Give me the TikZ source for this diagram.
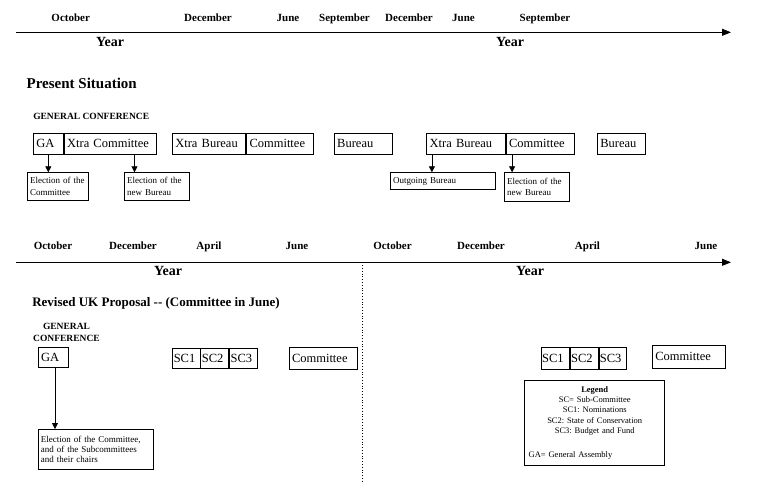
\documentclass[tikz,border=0pt]{standalone}
\usepackage{fontspec}
\setmainfont{Liberation Serif}
\usetikzlibrary{positioning,arrows.meta}
\frenchspacing

\begin{document}
\begin{tikzpicture}[x=1pt, y=-1pt, line width=0.8pt,
  month_lbl/.style={font=\fontsize{11}{13}\selectfont\bfseries, anchor=base, inner sep=0pt},
  year_lbl/.style={font=\fontsize{14}{16}\selectfont\bfseries, anchor=base, inner sep=0pt},
  title_lbl/.style={font=\fontsize{15}{17}\selectfont\bfseries, anchor=base, inner sep=0pt},
  conf_lbl/.style={font=\fontsize{9.5}{12.3}\selectfont\bfseries, align=center, inner sep=0pt},
  cell/.style={draw, font=\fontsize{12.5}{14}\selectfont, inner xsep=3pt, inner ysep=0pt, minimum height=21pt, align=left},
  sc_cell/.style={cell, inner xsep=1pt},
  note/.style={draw, inner xsep=2.5pt, inner ysep=2pt, align=left, anchor=north west},
  link/.style={-{Triangle[width=6pt,length=6pt]}},
  axis/.style={-{Triangle[width=7pt,length=9pt]}}]

  \useasboundingbox (0,0) rectangle (778,482);

  % present situation: time line
  \node[month_lbl] (t_oct) at (70.7,21.7) {October};
  \node[month_lbl] (t_dec) at (208,21.7) {December};
  \node[month_lbl] (t_jun) at (288,21.7) {June};
  \node[month_lbl] (t_sep) at (344.5,21.7) {September};
  \node[month_lbl] (t_dec2) at (409,21.7) {December};
  \node[month_lbl] (t_jun2) at (463.5,21.7) {June};
  \node[month_lbl] (t_sep2) at (545,21.7) {September};
  \coordinate (t_start) at (16,32.3);
  \coordinate (t_end) at (731,32.3);
  \draw[axis] (t_start) -- (t_end);
  \node[year_lbl] (t_year) at (110,46.7) {Year};
  \node[year_lbl] (t_year2) at (510,46.7) {Year};

  \node[title_lbl] (present) at (81.7,88.3) {Present Situation};
  \node[conf_lbl, anchor=base] (conf) at (91.2,119) {GENERAL CONFERENCE};

  \node[cell, text width=24pt] (ga) at (48.3,143.8) {GA};
  \node[cell, text width=86.4pt] (xc) [right=0pt of ga] {Xtra Committee};
  \node[cell, text width=67.4pt] (xb) at (209,143.8) {Xtra Bureau};
  \node[cell, text width=60.6pt] (cm) [right=0pt of xb] {Committee};
  \node[cell, text width=52pt] (bu) at (363.2,143.8) {Bureau};
  \node[cell, text width=72.6pt] (xb2) at (466,143.8) {Xtra Bureau};
  \node[cell, text width=62pt] (cm2) [right=0pt of xb2] {Committee};
  \node[cell, text width=42.4pt] (bu2) at (621.5,143.8) {Bureau};

  \node[note, font=\fontsize{9}{11.5}\selectfont, text width=56pt, minimum height=27.7pt] (el_cm) at (27.3,172.3) {Election of the\\Committee};
  \node[note, font=\fontsize{9}{11.5}\selectfont, text width=60pt, minimum height=27.7pt] (el_bu) at (124.3,172.3) {Election of the\\new Bureau};
  \node[note, font=\fontsize{9}{11.5}\selectfont, text width=99.4pt, minimum height=16.7pt] (out_bu) at (390.3,172.3) {Outgoing Bureau};
  \node[note, font=\fontsize{9}{11.5}\selectfont, text width=60pt, minimum height=28.7pt] (el_bu2) at (504.3,172.3) {Election of the\\new Bureau};

  \coordinate (p_ga) at (ga.south);
  \coordinate (p_xc) at ([xshift=24.2pt]xc.south);
  \coordinate (p_xb2) at ([xshift=5.6pt]xb2.south west);
  \coordinate (p_cm2) at ([xshift=6.4pt]cm2.south west);
  \draw[link] (p_ga) -- (p_ga |- el_cm.north);
  \draw[link] (p_xc) -- (p_xc |- el_bu.north);
  \draw[link] (p_xb2) -- (p_xb2 |- out_bu.north);
  \draw[link] (p_cm2) -- (p_cm2 |- el_bu2.north);

  % revised proposal: time line
  \node[month_lbl] (b_oct) at (53,249) {October};
  \node[month_lbl] (b_dec) at (133,249) {December};
  \node[month_lbl] (b_apr) at (209,249) {April};
  \node[month_lbl] (b_jun) at (297,249) {June};
  \node[month_lbl] (b_oct2) at (392.5,249) {October};
  \node[month_lbl] (b_dec2) at (481,249) {December};
  \node[month_lbl] (b_apr2) at (587.5,249) {April};
  \node[month_lbl] (b_jun2) at (706,249) {June};
  \coordinate (b_start) at (16,262.3);
  \coordinate (b_end) at (731,262.3);
  \draw[axis] (b_start) -- (b_end);
  \node[year_lbl] (b_year) at (168,275) {Year};
  \node[year_lbl] (b_year2) at (530,275) {Year};
  \coordinate (div_top) at (362.3,262.3);
  \coordinate (div_bot) at (362.3,482);
  \draw[dotted] (div_top) -- (div_bot);

  \node[title_lbl, font=\fontsize{13}{15}\selectfont\bfseries] (revised) at (156,306.7) {Revised UK Proposal -\kern0pt- (Committee in June)};
  \node[conf_lbl] (conf2) at (66.5,332.5) {GENERAL\\CONFERENCE};

  \node[cell, text width=24pt, minimum height=20pt] (ga2) at (53,357.5) {GA};
  \node[sc_cell, text width=25.3pt, minimum height=20pt] (sc1) at (186.4,358.5) {SC1};
  \node[sc_cell, text width=26pt, minimum height=20pt] (sc2) [right=0pt of sc1] {SC2};
  \node[sc_cell, text width=26pt, minimum height=20pt] (sc3) [right=0pt of sc2] {SC3};
  \node[cell, text width=62pt, minimum height=22pt] (cm3) at (323,358) {Committee};

  \node[sc_cell, text width=26.3pt, minimum height=22pt] (sc1b) at (555.2,358) {SC1};
  \node[sc_cell, text width=26pt, minimum height=22pt] (sc2b) [right=0pt of sc1b] {SC2};
  \node[sc_cell, text width=25pt, minimum height=22pt] (sc3b) [right=0pt of sc2b] {SC3};
  \node[cell, text width=67.4pt, minimum height=23pt] (cm4) at (689,356.5) {Committee};

  \node[note, font=\fontsize{9}{9.8}\selectfont, text width=110pt, minimum height=40pt] (el_all) at (38,429) {Election of the Committee,\\and of the Subcommittees\\and their chairs};
  \coordinate (p_ga2) at ([xshift=2pt]ga2.south);
  \draw[link] (p_ga2) -- (p_ga2 |- el_all.north);

  \node[note, font=\fontsize{8.5}{10.4}\selectfont, inner xsep=4pt, text width=132pt, minimum height=85pt, align=center] (legend) at (524.3,380)
    {{\bfseries Legend}\\SC= Sub-Committee\\SC1: Nominations\\SC2: State of Conservation\\SC3: Budget and Fund\\[13.6pt]\makebox[132pt][l]{GA= General Assembly}};
\end{tikzpicture}
\end{document}
